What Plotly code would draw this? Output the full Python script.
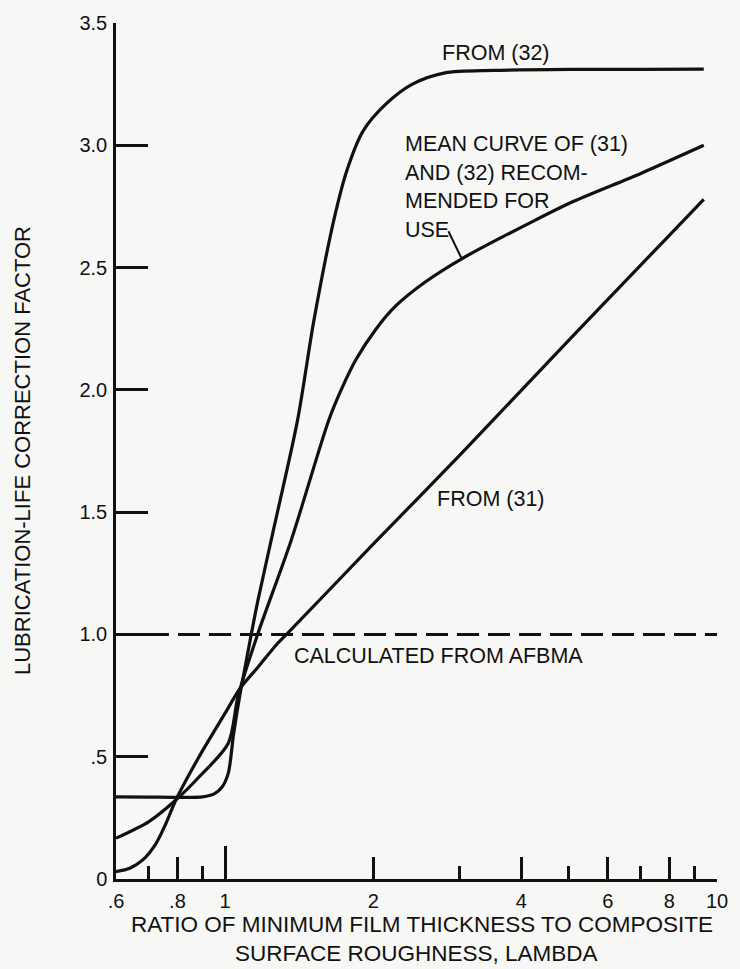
import numpy as np
import plotly.graph_objects as go

# ---- data ----
lam_32 = [0.6, 0.7, 0.8, 0.9, 0.95, 0.985, 1.015, 1.04, 1.07, 1.1, 1.131, 1.166,
          1.25, 1.403, 1.515, 1.662, 1.767, 1.907, 2.124, 2.403, 2.8, 3.5, 5.0, 7.0, 9.4]
f_32 = [0.336, 0.335, 0.334, 0.336, 0.348, 0.375, 0.433, 0.59, 0.745, 0.875, 1.004, 1.139,
        1.415, 1.874, 2.283, 2.691, 2.895, 3.058, 3.169, 3.250, 3.296, 3.306, 3.31, 3.31, 3.311]

lam_31 = [0.6, 0.64, 0.68, 0.724, 0.758, 0.794, 0.884, 1.0, 1.073, 1.166, 1.279, 1.339,
          2.0, 3.0, 4.0, 5.0, 6.0, 8.0, 9.4]
f_31 = [0.030, 0.044, 0.078, 0.146, 0.227, 0.323, 0.498, 0.678, 0.780, 0.866, 0.964, 1.004,
        1.369, 1.733, 1.998, 2.203, 2.370, 2.632, 2.779]

lam_mean = [0.6, 0.7, 0.794, 0.884, 1.015, 1.063, 1.166, 1.36, 1.623, 1.726, 1.849, 2.029,
            2.225, 2.556, 3.027, 4.243, 5.1, 7.0, 9.4]
f_mean = [0.167, 0.235, 0.323, 0.416, 0.555, 0.75, 1.004, 1.38, 1.874, 2.005, 2.127, 2.250,
          2.344, 2.442, 2.536, 2.691, 2.77, 2.885, 3.0]

lam_afbma = [0.6, 10.0]
f_afbma = [1.0, 1.0]

x_major_ticks = [0.6, 0.8, 1, 2, 4, 6, 8, 10]
x_major_text = [".6", ".8", "1", "2", "4", "6", "8", "10"]
x_long_ticks = [1, 10]
x_minor_ticks = [0.7, 0.9, 3, 5, 7, 9]
y_ticks = [0, 0.5, 1.0, 1.5, 2.0, 2.5, 3.0, 3.5]
y_text = ["0", ".5", "1.0", "1.5", "2.0", "2.5", "3.0", "3.5"]

INK = "#111111"
BG = "#f7f7f5"
FONT = "Liberation Sans, Arial, sans-serif"
XR = [np.log10(0.6), 1.0]

fig = go.Figure()
for xs, ys in [(lam_32, f_32), (lam_31, f_31), (lam_mean, f_mean)]:
    fig.add_trace(go.Scatter(x=xs, y=ys, mode="lines",
                             line=dict(color=INK, width=3.2, shape="spline", smoothing=0.8),
                             showlegend=False, hoverinfo="skip"))
fig.add_trace(go.Scatter(x=lam_afbma, y=f_afbma, mode="lines", xaxis="x2",
                         line=dict(color=INK, width=3, dash="22px,9px"),
                         showlegend=False, hoverinfo="skip"))

ann_font = dict(family=FONT, size=21.5, color=INK)
LX = np.log10(2.295)
anns = [
    dict(text="FROM (32)", x=np.log10(3.56), y=3.377, xanchor="center", yanchor="middle"),
    dict(text="MEAN CURVE OF (31)", x=LX, y=3.005, xanchor="left", yanchor="middle"),
    dict(text="AND (32) RECOM-", x=LX, y=2.887, xanchor="left", yanchor="middle"),
    dict(text="MENDED FOR", x=LX, y=2.773, xanchor="left", yanchor="middle"),
    dict(text="USE", x=LX, y=2.654, xanchor="left", yanchor="middle"),
    dict(text="FROM (31)", x=np.log10(3.465), y=1.552, xanchor="center", yanchor="middle"),
    dict(text="CALCULATED FROM AFBMA", x=np.log10(2.715), y=0.911, xanchor="center", yanchor="middle"),
]
annotations = [dict(a, xref="x", yref="y", showarrow=False, font=ann_font) for a in anns]
# leader from "USE" to the mean curve
annotations.append(dict(text="", x=np.log10(lam_mean[14]), y=f_mean[14], xref="x", yref="y",
                        showarrow=True, arrowhead=0, arrowwidth=2, arrowcolor=INK,
                        ax=-14, ay=-29, standoff=0, startstandoff=0))
# axis titles
annotations += [
    dict(text="LUBRICATION-LIFE CORRECTION FACTOR", xref="paper", yref="paper", x=0, y=0.5,
         xshift=-94, textangle=-90, showarrow=False,
         font=dict(family=FONT, size=22, color=INK), xanchor="center", yanchor="middle"),
    dict(text="RATIO OF MINIMUM FILM THICKNESS TO COMPOSITE", xref="paper", yref="paper",
         x=0.509, y=0, yshift=-45, showarrow=False,
         font=dict(family=FONT, size=22.5, color=INK), xanchor="center", yanchor="middle"),
    dict(text="SURFACE ROUGHNESS, LAMBDA", xref="paper", yref="paper",
         x=0.5, y=0, yshift=-74, showarrow=False,
         font=dict(family=FONT, size=22.5, color=INK), xanchor="center", yanchor="middle"),
]

tick_font = dict(family=FONT, size=20, color=INK)
fig.update_layout(
    width=740, height=969,
    margin=dict(l=116, r=14, t=22, b=90),
    paper_bgcolor=BG, plot_bgcolor=BG,
    showlegend=False,
    annotations=annotations,
    xaxis=dict(type="log", range=XR, showgrid=False, zeroline=False,
               showline=True, linecolor=INK, linewidth=2.5,
               tickmode="array", tickvals=x_major_ticks, ticktext=x_major_text,
               ticks="inside", ticklen=22, tickwidth=2.5, tickcolor=INK,
               tickfont=tick_font, ticklabelstandoff=2,
               minor=dict(tickmode="array", tickvals=x_minor_ticks, ticks="inside",
                          ticklen=13, tickwidth=2.5, tickcolor=INK, showgrid=False)),
    xaxis2=dict(type="log", range=XR, overlaying="x", anchor="y", side="bottom",
                showgrid=False, zeroline=False, showline=False,
                tickmode="array", tickvals=x_long_ticks, showticklabels=False,
                ticks="inside", ticklen=33, tickwidth=2.5, tickcolor=INK),
    yaxis=dict(range=[0, 3.5], showgrid=False, zeroline=False,
               showline=True, linecolor=INK, linewidth=2.5,
               tickmode="array", tickvals=y_ticks, ticktext=y_text,
               ticks="inside", ticklen=32, tickwidth=2.5, tickcolor=INK,
               tickfont=tick_font, ticklabelstandoff=2),
)

fig.write_html("out.html", config={"displayModeBar": False},
               post_script="document.body.style.margin='0px';document.body.style.overflow='hidden';")
